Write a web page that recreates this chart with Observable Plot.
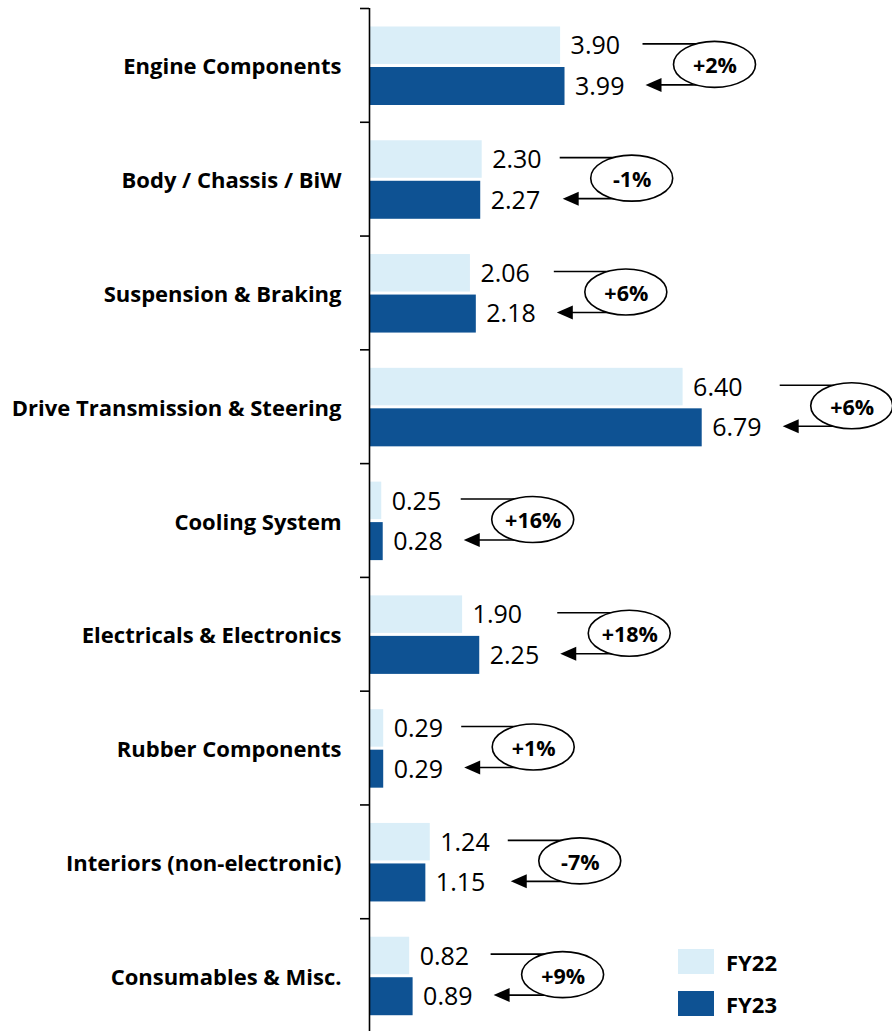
<!DOCTYPE html>
<html>
<head>
<meta charset="utf-8">
<script src="https://cdn.jsdelivr.net/npm/d3@7"></script>
<script src="https://cdn.jsdelivr.net/npm/@observablehq/plot@0.6"></script>
<style>
  body { margin: 0; background: #ffffff; }
  #wrap { position: relative; width: 892px; height: 1031px; overflow: hidden; }
  #legend { position: absolute; left: 678px; top: 949px; font-family: "Open Sans", sans-serif; font-weight: 700; font-size: 22px; color: #000; }
  #legend .row { display: flex; align-items: center; height: 25px; margin-bottom: 17px; }
  #legend .sw { width: 36px; height: 25px; margin-right: 12px; }
</style>
</head>
<body>
<div id="wrap"><div id="legend"></div></div>
<script>
// Component categories, top to bottom
const categories = [
  "Engine Components",
  "Body / Chassis / BiW",
  "Suspension & Braking",
  "Drive Transmission & Steering",
  "Cooling System",
  "Electricals & Electronics",
  "Rubber Components",
  "Interiors (non-electronic)",
  "Consumables & Misc."
];
// Values per year
const fy22 = [3.90, 2.30, 2.06, 6.40, 0.25, 1.90, 0.29, 1.24, 0.82];
const fy23 = [3.99, 2.27, 2.18, 6.79, 0.28, 2.25, 0.29, 1.15, 0.89];
// Year-on-year growth labels
const growth = ["+2%", "-1%", "+6%", "+6%", "+16%", "+18%", "+1%", "-7%", "+9%"];
const seriesNames = ["FY22", "FY23"];
const seriesColors = ["#daeef8", "#0e5293"];

const rows22 = categories.map((c, i) => ({category: c, series: "FY22", value: fy22[i]}));
const rows23 = categories.map((c, i) => ({category: c, series: "FY23", value: fy23[i]}));
const pairs = categories.map((c, i) => ({category: c, top: Math.max(fy22[i], fy23[i]), growth: growth[i]}));

const W = 892, H = 1032, ML = 369, MT = 8;
const band = (H - MT) / categories.length;

// Elbow connector from the FY22 label back to the FY23 label, with a growth bubble
function connectors(index, scales) {
  const x = scales.x, y = scales.y;
  const bw = y.bandwidth ? y.bandwidth() : band;
  const g = d3.create("svg:g");
  for (const p of pairs) {
    const x0 = x(p.top);
    const cy = y(p.category) + bw / 2;
    const ya = cy - 21, yb = cy + 20;
    const xs = x0 + 78, xc = x0 + 150, xt = x0 + 81;
    g.append("path")
      .attr("d", `M${xs},${ya}H${xc}V${yb}H${xt + 14}`)
      .attr("fill", "none").attr("stroke", "#000").attr("stroke-width", 1.6);
    g.append("path")
      .attr("d", `M${xt},${yb}L${xt + 16},${yb - 7}L${xt + 16},${yb + 7}Z`)
      .attr("fill", "#000");
    g.append("ellipse")
      .attr("cx", xc).attr("cy", cy - 0.5).attr("rx", 41).attr("ry", 23)
      .attr("fill", "#fff").attr("stroke", "#000").attr("stroke-width", 1.6);
  }
  return g.node();
}

const chart = Plot.plot({
  width: W,
  height: H,
  marginLeft: ML,
  marginRight: 0,
  marginTop: MT,
  marginBottom: 0,
  style: {fontFamily: "'Open Sans', sans-serif", background: "#fff", color: "#000", overflow: "visible"},
  x: {domain: [0, (W - ML) / 49], axis: null},
  y: {domain: categories, padding: 0, round: false, label: null},
  color: {domain: seriesNames, range: seriesColors},
  marks: [
    Plot.barX(rows22, {y: "category", x: "value", fill: "series", insetTop: 18.5, insetBottom: band - 56}),
    Plot.barX(rows23, {y: "category", x: "value", fill: "series", insetTop: 59, insetBottom: band - 97}),
    Plot.ruleX([0], {stroke: "#000", strokeWidth: 1.6}),
    Plot.text(rows22, {y: "category", x: "value", text: d => d.value.toFixed(2), dx: 10, dy: -19, textAnchor: "start", fontSize: 25, fill: "#000"}),
    Plot.text(rows23, {y: "category", x: "value", text: d => d.value.toFixed(2), dx: 10, dy: 21.5, textAnchor: "start", fontSize: 25, fill: "#000"}),
    connectors,
    Plot.text(pairs, {y: "category", x: "top", text: "growth", dx: 150, dy: 1, fontSize: 21.5, fontWeight: "bold", fill: "#000"}),
    Plot.axisY({tickSize: 0, tickPadding: 28, dy: 2, fontSize: 22, fontWeight: "bold", label: null}),
    Plot.axisY({tickSize: 9, tickFormat: () => "", dy: -band / 2, label: null, strokeWidth: 1.6})
  ]
});

const wrap = document.getElementById("wrap");
wrap.insertBefore(chart, wrap.firstChild);

const legend = d3.select("#legend");
seriesNames.forEach((s, i) => {
  const row = legend.append("div").attr("class", "row");
  row.append("div").attr("class", "sw").style("background", seriesColors[i]);
  row.append("span").text(s);
});
</script>
</body>
</html>
